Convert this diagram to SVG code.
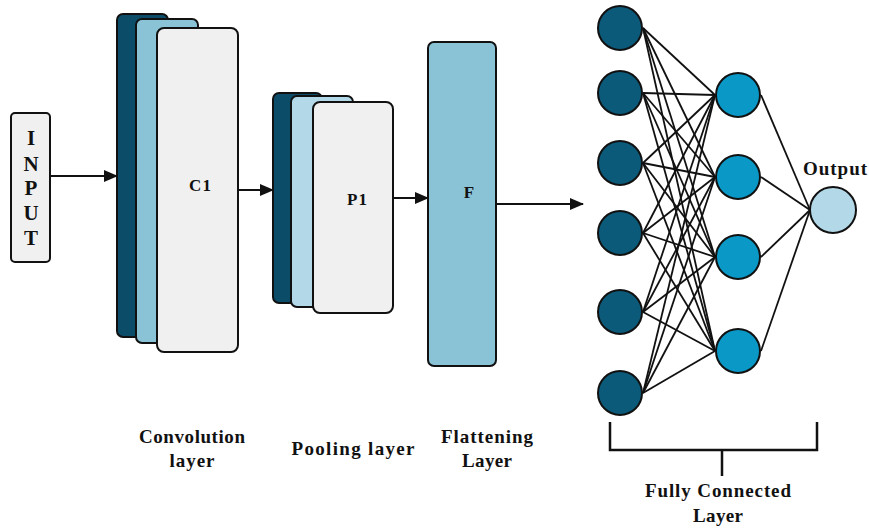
<svg xmlns="http://www.w3.org/2000/svg" width="869" height="530" viewBox="0 0 869 530">
  <style>
    .box { stroke: #111; stroke-width: 2; }
    .dark { fill: #0b4d68; }
    .mid { fill: #8ac3d6; }
    .pale { fill: #b3d9e8; }
    .front { fill: #f0f0f0; }
    .lbl { font-family: "Liberation Serif", "Times New Roman", serif; font-weight: bold; fill: #111; text-anchor: middle; }
    .cap { font-size: 19px; }
    .inner { font-size: 17px; }
    .arrow { stroke: #111; stroke-width: 2; fill: none; marker-end: url(#head); }
    .edge { stroke: #111; stroke-width: 1.8; }
    .n-in { fill: #0b5a7a; stroke: #111; stroke-width: 2; }
    .n-hid { fill: #0a98c6; stroke: #111; stroke-width: 2; }
    .n-out { fill: #b3d9e8; stroke: #111; stroke-width: 2; }
    .bracket { stroke: #111; stroke-width: 2.5; fill: none; }
  </style>
  <defs>
    <marker id="head" viewBox="0 0 14 12" refX="13" refY="6" markerWidth="14" markerHeight="12" markerUnits="userSpaceOnUse" orient="auto">
      <path d="M0,0 L14,6 L0,12 Z" fill="#111"/>
    </marker>
  </defs>
  <rect width="869" height="530" fill="#fff"/>

  <!-- input block -->
  <g id="input">
    <rect class="box front" x="11" y="113" width="39" height="149" rx="4"/>
    <text class="lbl" x="31" y="145" font-size="21">I</text>
    <text class="lbl" x="31" y="171" font-size="21">N</text>
    <text class="lbl" x="31" y="195" font-size="21">P</text>
    <text class="lbl" x="31" y="220" font-size="21">U</text>
    <text class="lbl" x="31" y="245" font-size="21">T</text>
  </g>

  <!-- convolution stack -->
  <g id="conv">
    <rect class="box dark" x="117" y="14" width="51" height="323" rx="6"/>
    <rect class="box mid" x="136" y="19" width="62" height="324" rx="6"/>
    <rect class="box front" x="157" y="28" width="81" height="324" rx="7"/>
    <text class="lbl inner" x="200" y="191" textLength="22">C1</text>
  </g>

  <!-- pooling stack -->
  <g id="pool">
    <rect class="box dark" x="273" y="93" width="49" height="210" rx="6"/>
    <rect class="box pale" x="291" y="96" width="62" height="211" rx="6"/>
    <rect class="box front" x="313" y="102" width="80" height="211" rx="7"/>
    <text class="lbl inner" x="357" y="205" textLength="20">P1</text>
  </g>

  <!-- flatten -->
  <g id="flatten">
    <rect class="box mid" x="428" y="42" width="68" height="324" rx="6"/>
    <text class="lbl inner" x="469" y="198">F</text>
  </g>

  <!-- connectors -->
  <g id="connectors">
    <line class="arrow" x1="50" y1="176" x2="117" y2="176"/>
    <line class="arrow" x1="238" y1="190" x2="273" y2="190"/>
    <line class="arrow" x1="393" y1="198" x2="428" y2="198"/>
    <line class="arrow" x1="496" y1="204" x2="583" y2="204"/>

    <!-- input layer to hidden layer -->
    <g class="edge">
      <line x1="643" y1="28" x2="715" y2="95"/>
      <line x1="643" y1="28" x2="715" y2="177"/>
      <line x1="643" y1="28" x2="715" y2="257"/>
      <line x1="643" y1="28" x2="715" y2="351"/>
      <line x1="643" y1="93" x2="715" y2="95"/>
      <line x1="643" y1="93" x2="715" y2="177"/>
      <line x1="643" y1="93" x2="715" y2="257"/>
      <line x1="643" y1="93" x2="715" y2="351"/>
      <line x1="643" y1="163" x2="715" y2="95"/>
      <line x1="643" y1="163" x2="715" y2="177"/>
      <line x1="643" y1="163" x2="715" y2="257"/>
      <line x1="643" y1="163" x2="715" y2="351"/>
      <line x1="643" y1="233" x2="715" y2="95"/>
      <line x1="643" y1="233" x2="715" y2="177"/>
      <line x1="643" y1="233" x2="715" y2="257"/>
      <line x1="643" y1="233" x2="715" y2="351"/>
      <line x1="643" y1="312" x2="715" y2="95"/>
      <line x1="643" y1="312" x2="715" y2="177"/>
      <line x1="643" y1="312" x2="715" y2="257"/>
      <line x1="643" y1="312" x2="715" y2="351"/>
      <line x1="643" y1="393" x2="715" y2="95"/>
      <line x1="643" y1="393" x2="715" y2="177"/>
      <line x1="643" y1="393" x2="715" y2="257"/>
      <line x1="643" y1="393" x2="715" y2="351"/>
      <!-- hidden layer to output -->
      <line x1="761" y1="95" x2="810" y2="210"/>
      <line x1="761" y1="177" x2="810" y2="210"/>
      <line x1="761" y1="257" x2="810" y2="210"/>
      <line x1="761" y1="351" x2="810" y2="210"/>
    </g>

    <!-- bracket under the dense layers -->
    <path class="bracket" d="M610,422 V450 H817 V422 M722,450 V476"/>
  </g>

  <!-- dense layer nodes -->
  <g id="input-layer">
    <circle class="n-in" cx="620" cy="28" r="22"/>
    <circle class="n-in" cx="620" cy="93" r="22"/>
    <circle class="n-in" cx="620" cy="163" r="22"/>
    <circle class="n-in" cx="620" cy="233" r="22"/>
    <circle class="n-in" cx="620" cy="312" r="22"/>
    <circle class="n-in" cx="620" cy="393" r="22"/>
  </g>
  <g id="hidden-layer">
    <circle class="n-hid" cx="738" cy="95" r="22"/>
    <circle class="n-hid" cx="738" cy="177" r="22"/>
    <circle class="n-hid" cx="738" cy="257" r="22"/>
    <circle class="n-hid" cx="738" cy="351" r="22"/>
  </g>
  <g id="output">
    <circle class="n-out" cx="833" cy="210" r="23"/>
    <text class="lbl cap" x="835" y="175" textLength="64">Output</text>
  </g>

  <!-- captions -->
  <g id="captions">
    <text class="lbl cap" x="192" y="443" textLength="106">Convolution</text>
    <text class="lbl cap" x="192" y="467" textLength="45">layer</text>
    <text class="lbl cap" x="353" y="455" textLength="123">Pooling  layer</text>
    <text class="lbl cap" x="487" y="443" textLength="92">Flattening</text>
    <text class="lbl cap" x="487" y="467" textLength="50">Layer</text>
    <text class="lbl cap" x="718" y="497" textLength="146">Fully Connected</text>
    <text class="lbl cap" x="718" y="522" textLength="50">Layer</text>
  </g>
</svg>
